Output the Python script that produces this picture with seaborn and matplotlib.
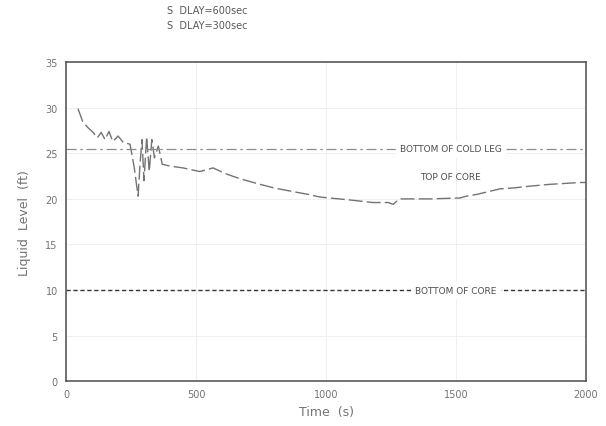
"""
plot.py - liquid level vs time, reproduction of a scanned transient plot.
"""
import numpy as np
import pandas as pd
import seaborn as sns
import matplotlib as mpl
import matplotlib.pyplot as plt

sns.set_style("white")
mpl.rcParams['font.family'] = ['DejaVu Sans']

# Data
time_s = [46, 65, 85, 104, 120, 135, 150, 165, 180, 200, 220, 246, 262, 277,
          285, 292, 300, 310, 320, 330, 340, 355, 370, 400, 450, 515, 565,
          620, 670, 746, 800, 873, 930, 977, 1050, 1119, 1181, 1240, 1258,
          1270, 1285, 1400, 1515, 1540, 1581, 1669, 1720, 1785, 1862, 1977,
          2000]
level_ft = [29.9, 28.4, 27.8, 27.3, 26.7, 27.3, 26.5, 27.4, 26.3, 26.9, 26.2,
            26.0, 23.5, 20.3, 24.0, 26.5, 22.0, 26.8, 23.0, 26.5, 24.5, 25.8,
            23.8, 23.6, 23.4, 23.0, 23.4, 22.7, 22.2, 21.6, 21.2, 20.8, 20.5,
            20.2, 20.0, 19.8, 19.6, 19.6, 19.4, 19.7, 20.0, 20.0, 20.1, 20.3,
            20.5, 21.1, 21.2, 21.4, 21.6, 21.8, 21.8]
legend_labels = ["S  DLAY=600sec", "S  DLAY=300sec"]
ref_names = ["BOTTOM OF COLD LEG", "TOP OF CORE", "BOTTOM OF CORE"]
ref_levels = [25.5, 22.0, 10.0]

df = pd.DataFrame({'time': time_s, 'level': level_ft})

fig = plt.figure(figsize=(6.06, 4.27), dpi=100)
fig.patch.set_facecolor('white')
ax = fig.add_axes([0.109, 0.105, 0.858, 0.747])

sns.lineplot(data=df, x='time', y='level', ax=ax, color='0.45', lw=1.0,
             dashes=False)
ax.lines[0].set_dashes([10, 3])

# reference levels
ax.axhline(ref_levels[0], color='0.55', lw=0.9, dashes=[8, 3, 2, 3])
ax.axhline(ref_levels[2], color='0.2', lw=1.0, dashes=[3, 2])

txt = dict(ha='center', va='center', fontsize=6.5, color='0.3')
ax.text(1480, ref_levels[0], ref_names[0], backgroundcolor='white', **txt)
ax.text(1480, ref_levels[1] + 0.5, ref_names[1], **txt)
ax.text(1500, ref_levels[2], ref_names[2], backgroundcolor='white', **txt)

ax.set_xlim(0, 2000)
ax.set_ylim(0, 35)
ax.set_xticks(np.arange(0, 2001, 500))
ax.set_yticks(np.arange(0, 36, 5))
ax.grid(True, color='0.93', lw=0.6)
ax.tick_params(labelsize=7, colors='0.45', length=0, pad=6)
for sp in ax.spines.values():
    sp.set_color('0.3')
    sp.set_linewidth(1.1)

ax.set_xlabel("Time  (s)", fontsize=9, color='0.45', labelpad=4)
ax.set_ylabel("Liquid  Level  (ft)", fontsize=9, color='0.45', labelpad=10)

fig.text(0.275, 0.975, legend_labels[0], fontsize=7, color='0.35',
         va='center', ha='left')
fig.text(0.275, 0.94, legend_labels[1], fontsize=7, color='0.35',
         va='center', ha='left')

plt.savefig("out.png", dpi=100)
